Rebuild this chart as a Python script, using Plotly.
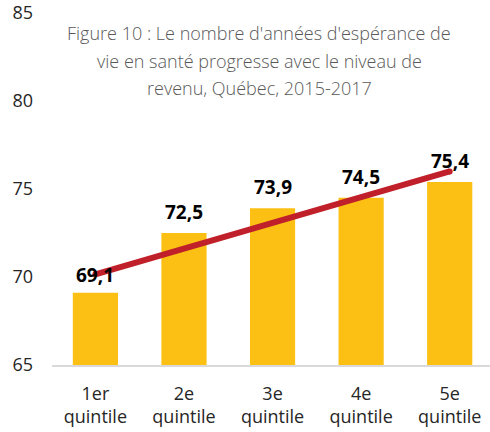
import plotly.graph_objects as go

categories = ["1er<br>quintile", "2e<br>quintile", "3e<br>quintile", "4e<br>quintile", "5e<br>quintile"]
values = [69.1, 72.5, 73.9, 74.5, 75.4]
value_labels = ["69,1", "72,5", "73,9", "74,5", "75,4"]
# Linear trend line endpoints
trend_categories = [categories[0], categories[-1]]
trend_values = [70.15, 76.0]
y_ticks = [65, 70, 75, 80, 85]

title_lines = ["Figure 10 : Le nombre d'années d'espérance de",
               "vie en santé progresse avec le niveau de",
               "revenu, Québec, 2015-2017"]

FONT = "Open Sans"
label_shift = [18, 21, 21, 21, 21]
title_line_px = [33, 61, 88]

fig = go.Figure()
fig.add_trace(go.Bar(
    x=categories, y=values, width=0.51,
    marker=dict(color="#FBC013", line=dict(width=0)),
    hoverinfo="skip",
))
fig.add_trace(go.Scatter(
    x=trend_categories, y=trend_values, mode="lines+markers",
    line=dict(color="#C0202A", width=6),
    marker=dict(color="#C0202A", size=6),
    hoverinfo="skip",
))

for c, v, t, s in zip(categories, values, value_labels, label_shift):
    fig.add_annotation(x=c, y=v, text="<b>" + t + "</b>", showarrow=False,
                       yanchor="middle", yshift=s,
                       font=dict(family=FONT, size=19, color="#000000"))

for line, py in zip(title_lines, title_line_px):
    fig.add_annotation(xref="paper", yref="paper", x=(259 - 52) / 438, y=(365 - py) / 352,
                       text=line, showarrow=False, xanchor="center", yanchor="middle",
                       font=dict(family=FONT, size=18, color="#595959", weight=300))

fig.update_layout(
    width=490, height=432,
    margin=dict(l=52, r=0, t=13, b=67, autoexpand=False),
    paper_bgcolor="white", plot_bgcolor="white",
    showlegend=False,
    font=dict(family=FONT, size=18, color="#262626"),
    xaxis=dict(
        type="category", range=[-0.49, 4.455], automargin=False,
        showline=True, linecolor="#D9D9D9", linewidth=2,
        showgrid=False, ticks="", zeroline=False,
        ticklabelstandoff=11,
        tickfont=dict(family=FONT, size=18, color="#262626"),
        fixedrange=True,
    ),
    yaxis=dict(
        range=[65, 85], tickvals=y_ticks, ticktext=[str(t) for t in y_ticks],
        automargin=False,
        showgrid=False, zeroline=False, showline=False, ticks="",
        ticklabelstandoff=18,
        tickfont=dict(family=FONT, size=18, color="#262626"),
        fixedrange=True,
    ),
)

fig.write_html("out.html", config={"displayModeBar": False},
               post_script="document.body.style.margin='0';document.body.style.overflow='hidden';")
